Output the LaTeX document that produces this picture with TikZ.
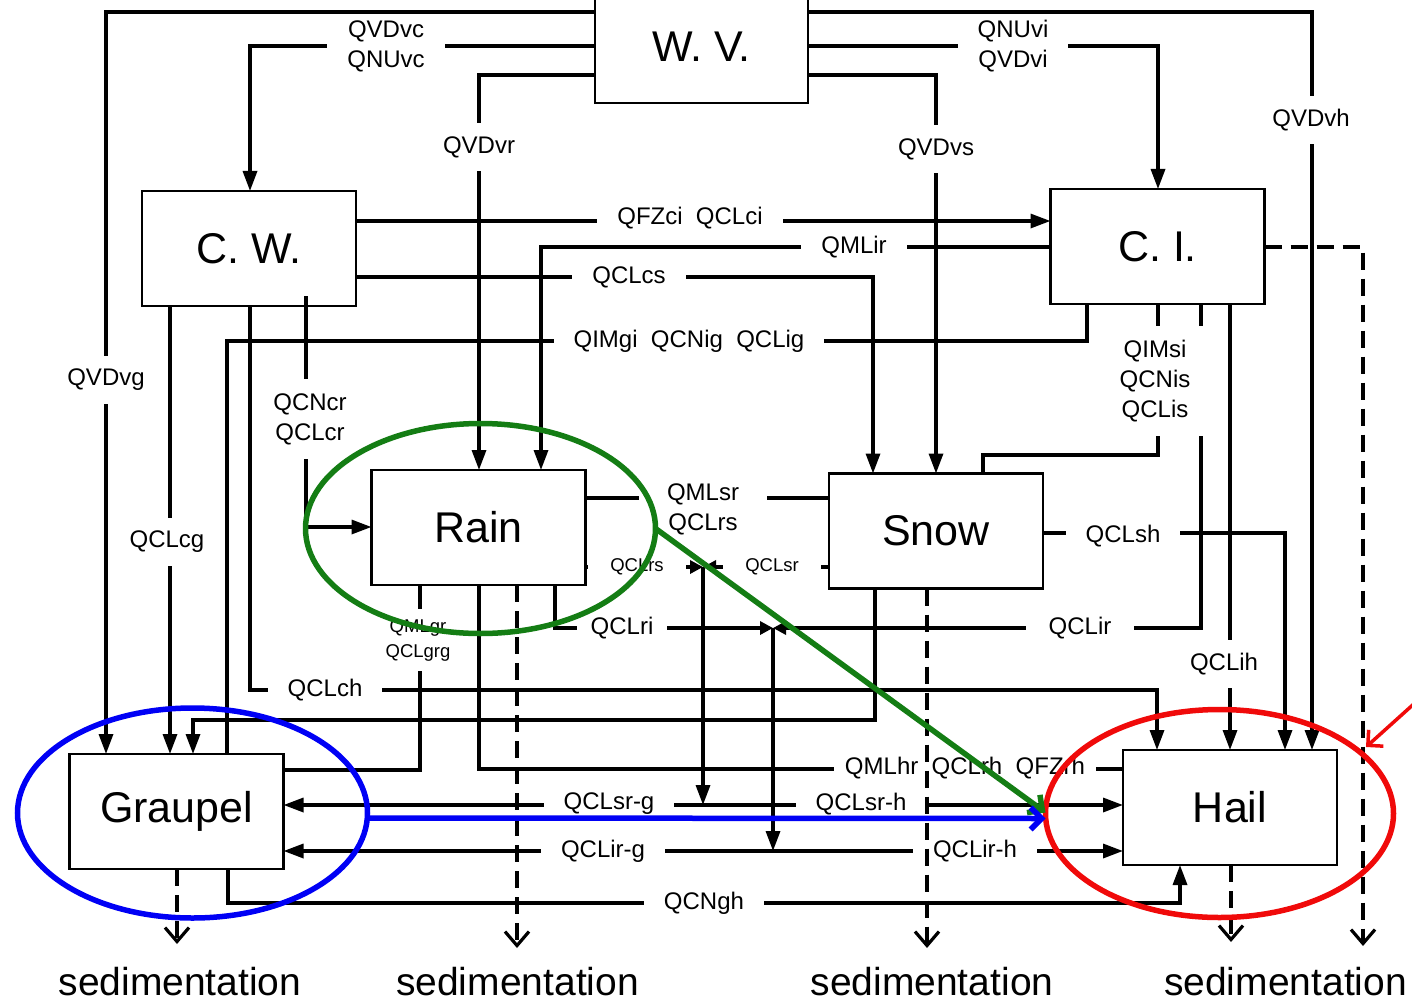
\documentclass[tikz,border=0pt]{standalone}
\usepackage{fontspec}
\setmainfont{Liberation Sans}
\usetikzlibrary{arrows.meta,shapes.geometric}
\definecolor{ringgreen}{RGB}{20,125,20}
\definecolor{ringblue}{RGB}{0,0,245}
\definecolor{ringred}{RGB}{240,10,10}
\begin{document}
\begin{tikzpicture}[x=1pt,y=-1pt,line join=miter,
	box/.style={draw,line width=2.2pt,minimum width=214pt,minimum height=115pt,inner sep=0pt,outer sep=0pt,font=\fontsize{43}{43}\selectfont},
	flow/.style={line width=3.3pt},
	arr/.style={flow,-{Triangle[length=20pt,width=14pt]}},
	darr/.style={flow,{Triangle[length=20pt,width=14pt]}-{Triangle[length=20pt,width=14pt]}},
	sarr/.style={flow,-{Triangle[length=13pt,width=13pt]}},
	sed/.style={line width=3.4pt,dash pattern=on 17pt off 9pt,-{Straight Barb[length=14pt,width=24pt,line width=3.2pt]}},
	lbl/.style={fill=white,inner xsep=20pt,inner ysep=3pt,align=center,font=\fontsize{24}{30}\selectfont},
	vlbl/.style={lbl,inner xsep=3pt,inner ysep=13pt},
	slbl/.style={lbl,font=\fontsize{18.5}{25}\selectfont},
	sedtxt/.style={anchor=base,inner sep=0pt,font=\fontsize{39}{39}\selectfont},
	ring/.style={draw,ellipse,line width=5.5pt,minimum width=350pt,minimum height=210pt,inner sep=0pt,outer sep=0pt},
	ringarr/.style={line width=5.5pt,-{Straight Barb[length=11pt,width=22pt]}}]
	\useasboundingbox (0,0) rectangle (1412,1003);
	\node[box,minimum width=213pt,minimum height=112pt] (wv) at (701.5,47) {W.\ V.};
	\node[box] (cw) at (249,248.5) {C.\ W.};
	\node[box] (ci) at (1157.5,246.5) {C.\ I.};
	\node[box] (rain) at (478.5,527.5) {Rain};
	\node[box] (snow) at (936,531) {Snow};
	\node[box] (grp) at (176.5,811.5) {Graupel};
	\node[box] (hail) at (1230,807.5) {Hail};
	\draw[arr] (wv.west|-0,12) -| (grp.north-|106,0);
	\draw[arr] (wv.east|-0,12) -| (hail.north-|1312,0);
	\draw[arr] (wv.west|-0,46) -| (cw.north-|250,0);
	\draw[arr] (wv.east|-0,46) -| (ci.north-|1158,0);
	\draw[arr] (wv.west|-0,75) -| (rain.north-|479,0);
	\draw[arr] (wv.east|-0,75) -| (snow.north-|936,0);
	\draw[arr] (cw.east|-0,221) -- (ci.west|-0,221);
	\draw[arr] (ci.west|-0,247) -| (rain.north-|541,0);
	\draw[arr] (cw.east|-0,277) -| (snow.north-|873,0);
	\draw[flow] (ci.south-|1087,0) |- (227,341) -- (grp.north-|227,0);
	\draw[arr] (cw.south-|170,0) -- (grp.north-|170,0);
	\draw[arr] (cw.south-|250,0) |- (1157,690) -- (hail.north-|1157,0);
	\draw[arr] (306,296) |- (rain.west|-0,527);
	\draw[flow] (ci.south-|1158,0) |- (983,455) -- (snow.north-|983,0);
	\draw[arr] (ci.south-|1230,0) -- (hail.north-|1230,0);
	\draw[arr] (snow.east|-0,533) -| (hail.north-|1285,0);
	\draw[flow] (rain.east|-0,498) -- (snow.west|-0,498);
	\coordinate (rs) at (703,567);
	\coordinate (ri) at (773,628);
	\draw[sarr] (rain.east|-0,567) -- (rs);
	\draw[sarr] (snow.west|-0,567) -- (rs);
	\draw[sarr] (rain.south-|555,0) |- (ri);
	\draw[sarr] (ci.south-|1201,0) |- (ri);
	\draw[arr] (rs) -- (rs|-0,805);
	\draw[arr] (ri) -- (ri|-0,851);
	\draw[darr] (grp.east|-0,805) -- (hail.west|-0,805);
	\draw[darr] (grp.east|-0,851) -- (hail.west|-0,851);
	\draw[arr] (snow.south-|875,0) |- (193,720) -- (grp.north-|193,0);
	\draw[flow] (rain.south-|420,0) |- (grp.east|-0,770);
	\draw[flow] (rain.south-|479,0) |- (hail.west|-0,769);
	\draw[arr] (grp.south-|228,0) |- (1180,903) -- (hail.south-|1180,0);
	\node[vlbl] (qvdvg) at (106,380) {QVDvg};
	\node[vlbl] (qvdvh) at (1311,120) {QVDvh};
	\node[lbl,inner ysep=1pt] (qvdvc) at (386,46) {QVDvc\\QNUvc};
	\node[lbl,inner ysep=1pt] (qnuvi) at (1013,46) {QNUvi\\QVDvi};
	\node[vlbl] (qvdvr) at (479,147) {QVDvr};
	\node[vlbl] (qvdvs) at (936,149) {QVDvs};
	\node[lbl] (qfzci) at (690,218) {QFZci\ \ QCLci};
	\node[lbl] (qmlir) at (854,247) {QMLir};
	\node[lbl] (qclcs) at (629,277) {QCLcs};
	\node[lbl] (qimgi) at (689,341) {QIMgi\ \ QCNig\ \ QCLig};
	\node[vlbl] (qclcg) at (167,542) {QCLcg};
	\node[vlbl,inner ysep=14pt] (qcncr) at (310,419) {QCNcr\\QCLcr};
	\node[vlbl,inner xsep=14pt,inner ysep=14pt] (qimsi) at (1155,381) {QIMsi\\QCNis\\QCLis};
	\node[lbl,inner xsep=28pt] (qmlsr) at (703,509) {QMLsr\\QCLrs};
	\node[slbl,inner xsep=22pt] (qclrs) at (637,567) {QCLrs};
	\node[slbl,inner xsep=22pt] (qclsr) at (772,567) {QCLsr};
	\node[lbl,inner xsep=14pt] (qclri) at (622,628) {QCLri};
	\node[lbl,inner xsep=23pt] (qclir) at (1080,628) {QCLir};
	\node[lbl] (qclsh) at (1123,536) {QCLsh};
	\node[vlbl] (qclih) at (1224,664) {QCLih};
	\node[slbl,inner xsep=3pt,inner ysep=10pt] (qmlgr) at (418,640) {QMLgr\\QCLgrg};
	\node[lbl] (qclch) at (325,690) {QCLch};
	\node[lbl,inner xsep=11pt] (qmlhr) at (965,768) {QMLhr\ \ QCLrh\ \ QFZrh};
	\node[lbl] (qclsrg) at (609,804) {QCLsr-g};
	\node[lbl] (qclsrh) at (861,804) {QCLsr-h};
	\node[lbl] (qclirg) at (603,851) {QCLir-g};
	\node[lbl] (qclirh) at (975,851) {QCLir-h};
	\node[lbl] (qcngh) at (704,903) {QCNgh};
	\draw[sed] (ci.east|-0,247) -| (1363,946);
	\draw[sed] (grp.south-|177,0) -- (177,944);
	\draw[sed] (rain.south-|517,0) -- (517,948);
	\draw[sed] (snow.south-|927,0) -- (927,948);
	\draw[sed] (hail.south-|1231,0) -- (1231,942);
	\node[sedtxt] (sedg) at (180,995) {sedimentation};
	\node[sedtxt] (sedr) at (517.5,995) {sedimentation};
	\node[sedtxt] (seds) at (932,995) {sedimentation};
	\node[sedtxt] (sedh) at (1285.5,995) {sedimentation};
	\node[ring,ringgreen] (rainring) at (480.5,528.5) {};
	\node[ring,ringblue] (grpring) at (192.5,813) {};
	\node[ring,ringred,minimum width=348pt,minimum height=208pt] (hailring) at (1219.5,813.5) {};
	\draw[ringarr,ringgreen] (rainring.east) -- ([yshift=1pt]hailring.west);
	\draw[ringarr,ringblue] ([yshift=-5pt]grpring.east) -- ([yshift=-5pt]hailring.west);
	\coordinate (redtail) at (1436,684);
	\coordinate (redtip) at (1366,747);
	\draw[ringarr,ringred,line width=3.5pt] (redtail) -- (redtip);
\end{tikzpicture}
\end{document}
